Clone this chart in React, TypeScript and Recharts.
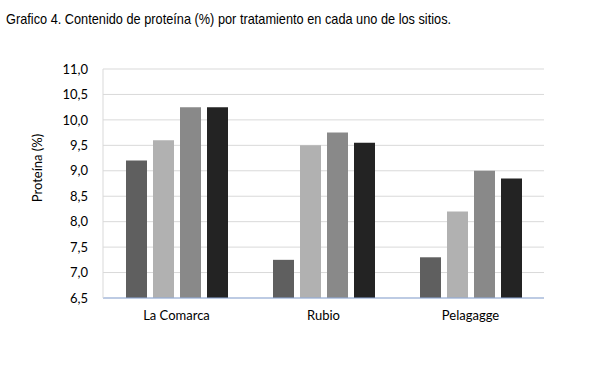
import { Bar, BarChart, CartesianGrid, XAxis, YAxis } from "recharts";

const sitios = ["La Comarca", "Rubio", "Pelagagge"];
const trat1 = [9.2, 7.25, 7.3];
const trat2 = [9.6, 9.5, 8.2];
const trat3 = [10.25, 9.75, 9.0];
const trat4 = [10.25, 9.55, 8.85];
const yTicks = [6.5, 7, 7.5, 8, 8.5, 9, 9.5, 10, 10.5, 11];

const data = sitios.map((s, i) => ({
  name: s,
  t1: trat1[i],
  t2: trat2[i],
  t3: trat3[i],
  t4: trat4[i],
}));

const fmt = (v: number) => v.toFixed(1).replace(".", ",");

// y axis title sits a bit above the plot's middle, like in the original
const YTitle = () => (
  <text
    x={37}
    y={168}
    transform="rotate(-90 37 168)"
    textAnchor="middle"
    dominantBaseline="central"
    fill="#000"
    fontSize={13}
  >
    Proteína (%)
  </text>
);

export default function App() {
  return (
    <div style={{ position: "fixed", left: 0, top: 0, width: 600, height: 368, background: "#fff" }}>
      <div
        style={{
          position: "absolute",
          left: 6,
          top: 10,
          fontFamily: "'Liberation Sans', Arial, sans-serif",
          fontSize: 15,
          color: "#000",
          whiteSpace: "nowrap",
          transform: "scaleX(0.85)",
          transformOrigin: "left top",
        }}
      >
        Grafico 4. Contenido de proteína (%) por tratamiento en cada uno de los sitios.
      </div>
      <BarChart
        width={600}
        height={368}
        data={data}
        margin={{ top: 69, right: 56, left: 43, bottom: 40 }}
        barSize={21}
        barGap={6}
        style={{ fontFamily: "Lato, sans-serif" }}
      >
        <CartesianGrid vertical={false} stroke="#d9d9d9" />
        <XAxis
          dataKey="name"
          height={30}
          tickLine={false}
          tickSize={0}
          tickMargin={13}
          stroke="#8eaadb"
          tick={{ fill: "#000", fontSize: 13 }}
        />
        <YAxis
          width={60}
          domain={[6.5, 11]}
          ticks={yTicks}
          interval={0}
          tickFormatter={fmt}
          tickLine={false}
          tickSize={0}
          tickMargin={15}
          stroke="#d9d9d9"
          tick={{ fill: "#000", fontSize: 13 }}
          label={{ content: () => <YTitle /> }}
        />
        <Bar dataKey="t1" fill="#5f5f5f" isAnimationActive={false} />
        <Bar dataKey="t2" fill="#b1b1b1" isAnimationActive={false} />
        <Bar dataKey="t3" fill="#898989" isAnimationActive={false} />
        <Bar dataKey="t4" fill="#232323" isAnimationActive={false} />
      </BarChart>
    </div>
  );
}
